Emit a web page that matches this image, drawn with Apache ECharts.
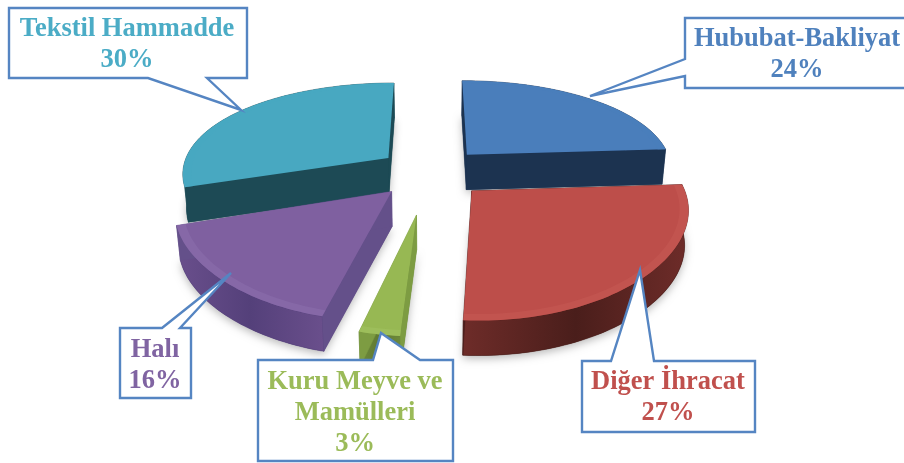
<!DOCTYPE html>
<html><head><meta charset="utf-8">
<style>html,body{margin:0;padding:0;background:#fff}#c{width:904px;height:463px}</style>
<script src="https://cdn.jsdelivr.net/npm/echarts@6/dist/echarts.min.js"></script>
</head><body><div id="c"></div>
<script>
// data
var categories = ['Hububat-Bakliyat', 'Diğer İhracat', 'Kuru Meyve ve\nMamülleri', 'Halı', 'Tekstil Hammadde'];
var values = [24, 27, 3, 16, 30];
// styles
var topColors  = ['#4a7ebb', '#bd4e4a', '#97b853', '#7f60a0', '#48a8c1'];
var rimColors  = ['#4a7ebb', '#c45854', '#a2c260', '#8a6eab', '#48a8c1'];
var wallLight  = ['#1f3a5c', '#6e2c29', '#6f8b3b', '#6a4f8c', '#1f525f'];
var wallDark   = ['#1b3150', '#4a1e1b', '#5f7932', '#54407a', '#1b4651'];
var cutColors  = ['#1c3350', '#4a1e1c', '#7d9c42', '#64508a', '#1d4a55'];
var textColors = ['#4f81bd', '#c0504d', '#9bbb59', '#8064a2', '#4bacc6'];
var explodes   = [0.26, 0.27, 0.42, 0.27, 0.26];
var radii      = [1, 1, 0.87, 1, 1];
var paintOrder = [4, 0, 3, 1, 2];
// projection
var CX = 431, CY = 172, RX = 207, RY = 95, K = 0.2, KX = 0.15, DEPTH = 35, BOTTOM_SCALE = 0.985;
var total = values.reduce(function (a, b) { return a + b; }, 0);

function project(dx, dy) {
  return [CX + RX * dx / (1 - KX * dy), CY + RY * dy / (1 - K * dy)];
}
function low(p) { return [CX + (p[0] - CX) * BOTTOM_SCALE, p[1] + DEPTH]; }

function sliceGeometry(idx) {
  var before = 0;
  for (var i = 0; i < idx; i++) before += values[i];
  var a0 = before / total * Math.PI * 2;
  var a1 = (before + values[idx]) / total * Math.PI * 2;
  var mid = (a0 + a1) / 2, e = explodes[idx], r = radii[idx];
  var ox = e * Math.sin(mid), oy = -e * Math.cos(mid);
  function at(a, rr) { return project(ox + rr * r * Math.sin(a), oy - rr * r * Math.cos(a)); }
  function arc(rr) {
    var pts = [], n = Math.max(6, Math.round((a1 - a0) * 40));
    for (var j = 0; j <= n; j++) pts.push(at(a0 + (a1 - a0) * j / n, rr));
    return pts;
  }
  return { apex: project(ox, oy), arc: arc, at: at, a0: a0, a1: a1 };
}

function renderSlice(params) {
  var idx = paintOrder[params.dataIndex];
  var g = sliceGeometry(idx);
  var outer = g.arc(1), inner = g.arc(0.96);
  var bottomArc = outer.map(low).reverse();
  var apex = g.apex, first = outer[0], last = outer[outer.length - 1];
  var wallFill = {
    type: 'linear', x: 0, y: 0, x2: 1, y2: 0,
    colorStops: [{ offset: 0, color: wallLight[idx] }, { offset: 0.5, color: wallDark[idx] }, { offset: 1, color: wallLight[idx] }]
  };
  function poly(points, fill, extra) {
    var st = { fill: fill };
    if (extra) for (var k in extra) st[k] = extra[k];
    return { type: 'polygon', shape: { points: points }, style: st, silent: true };
  }
  var shadow = { shadowBlur: 8, shadowColor: 'rgba(0,0,0,0.28)', shadowOffsetY: 3 };
  var children = [
    poly([low(apex)].concat(g.arc(1).map(low)), wallDark[idx], shadow),
    poly(outer.concat(bottomArc), wallFill, { stroke: wallDark[idx], lineWidth: 0.5 }),
    poly([apex, first, low(first), low(apex)], cutColors[idx], { stroke: cutColors[idx], lineWidth: 0.5 }),
    poly([apex, last, low(last), low(apex)], cutColors[idx], { stroke: cutColors[idx], lineWidth: 0.5 }),
    poly([apex].concat(outer), topColors[idx]),
    poly(outer.concat(inner.slice().reverse()), rimColors[idx], { opacity: 0.6 })
  ];
  return { type: 'group', children: children };
}

// callout layout: box rectangle, pointer base and tip, text centre
var callouts = [
  { box: [685, 18, 915, 88], side: 'left', base: [59, 76], tip: [590, 96], text: [797, 55] },
  { box: [582, 361, 755, 432], side: 'top', base: [611, 654], tip: [640, 270], text: [668, 398] },
  { box: [258, 360, 453, 461], side: 'top', base: [373, 420], tip: [381, 333], text: [355, 413] },
  { box: [120, 328, 191, 398], side: 'top', base: [162, 180], tip: [231, 273], text: [155, 366] },
  { box: [9, 8, 247, 78], side: 'bottom', base: [148, 207], tip: [241, 110], text: [127, 45] }
];
function calloutElements() {
  var els = [];
  callouts.forEach(function (c, i) {
    var b = c.box, x0 = b[0], y0 = b[1], x1 = b[2], y1 = b[3], pts;
    if (c.side === 'top') pts = [[x0, y0], [c.base[0], y0], c.tip, [c.base[1], y0], [x1, y0], [x1, y1], [x0, y1]];
    else if (c.side === 'bottom') pts = [[x0, y0], [x1, y0], [x1, y1], [c.base[1], y1], c.tip, [c.base[0], y1], [x0, y1]];
    else pts = [[x0, y0], [x1, y0], [x1, y1], [x0, y1], [x0, c.base[1]], c.tip, [x0, c.base[0]]];
    els.push({
      type: 'polygon', z: 10, shape: { points: pts },
      style: { fill: '#fff', stroke: '#5585c2', lineWidth: 2.4, lineJoin: 'miter' }, silent: true
    });
    els.push({
      type: 'text', z: 11, x: c.text[0], y: c.text[1],
      style: {
        text: categories[i] + '\n' + values[i] + '%',
        fill: textColors[i], font: 'bold 26.5px "Liberation Serif"',
        align: 'center', verticalAlign: 'middle', lineHeight: 31
      }, silent: true
    });
  });
  return els;
}

var chart = echarts.init(document.getElementById('c'), null, { renderer: 'canvas' });
chart.setOption({
  animation: false,
  backgroundColor: '#fff',
  series: [{
    type: 'custom', coordinateSystem: 'none', silent: true, clip: false,
    renderItem: renderSlice,
    data: paintOrder.map(function (i) { return { name: categories[i], value: values[i] }; })
  }],
  graphic: { elements: calloutElements() }
});
</script></body></html>
